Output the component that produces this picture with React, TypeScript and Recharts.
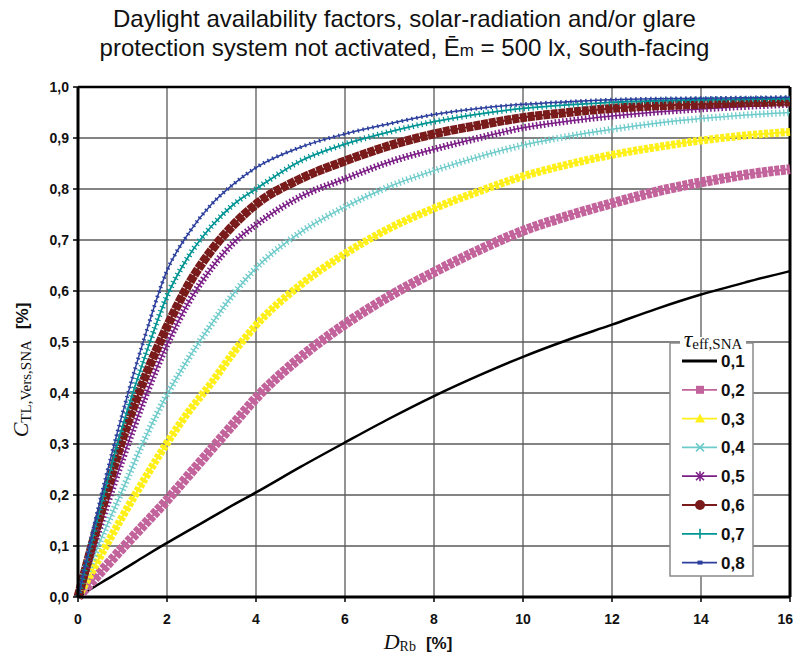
import React from 'react';
import { LineChart, Line, XAxis, YAxis, CartesianGrid, ReferenceLine } from 'recharts';

const xValues = [0, 0.5, 1, 1.5, 2, 2.5, 3, 3.5, 4, 5, 6, 7, 8, 9, 10, 11, 12, 13, 14, 15, 16];
const tau01 = [0, 0.027, 0.053, 0.08, 0.106, 0.131, 0.156, 0.181, 0.205, 0.255, 0.303, 0.35, 0.394, 0.434, 0.471, 0.504, 0.534, 0.565, 0.593, 0.617, 0.639];
const tau02 = [0, 0.048, 0.096, 0.143, 0.19, 0.24, 0.29, 0.34, 0.39, 0.47, 0.535, 0.59, 0.637, 0.68, 0.718, 0.747, 0.772, 0.795, 0.813, 0.828, 0.839];
const tau03 = [0, 0.08, 0.158, 0.232, 0.302, 0.365, 0.42, 0.48, 0.533, 0.612, 0.673, 0.723, 0.762, 0.795, 0.825, 0.848, 0.867, 0.882, 0.895, 0.905, 0.912];
const tau04 = [0, 0.11, 0.21, 0.31, 0.397, 0.47, 0.535, 0.595, 0.645, 0.715, 0.765, 0.805, 0.836, 0.863, 0.886, 0.903, 0.917, 0.929, 0.938, 0.945, 0.95];
const tau05 = [0, 0.14, 0.27, 0.39, 0.495, 0.58, 0.645, 0.695, 0.73, 0.785, 0.82, 0.853, 0.878, 0.9, 0.92, 0.933, 0.943, 0.951, 0.957, 0.962, 0.966];
const tau06 = [0, 0.16, 0.31, 0.43, 0.53, 0.615, 0.68, 0.73, 0.77, 0.82, 0.855, 0.885, 0.908, 0.925, 0.94, 0.95, 0.958, 0.963, 0.966, 0.969, 0.971];
const tau07 = [0, 0.175, 0.335, 0.47, 0.59, 0.67, 0.727, 0.77, 0.8, 0.855, 0.888, 0.912, 0.932, 0.947, 0.958, 0.965, 0.97, 0.973, 0.975, 0.976, 0.977];
const tau08 = [0, 0.19, 0.36, 0.51, 0.64, 0.715, 0.77, 0.81, 0.842, 0.882, 0.908, 0.928, 0.946, 0.958, 0.966, 0.971, 0.975, 0.977, 0.978, 0.979, 0.98];

const seriesLabels = ['0,1', '0,2', '0,3', '0,4', '0,5', '0,6', '0,7', '0,8'];
const xTicks = [0, 2, 4, 6, 8, 10, 12, 14, 16];
const yTicks = [0, 0.1, 0.2, 0.3, 0.4, 0.5, 0.6, 0.7, 0.8, 0.9, 1.0];

const allSeries = [tau01, tau02, tau03, tau04, tau05, tau06, tau07, tau08];
const keys = ['s1', 's2', 's3', 's4', 's5', 's6', 's7', 's8'];

const data = xValues.map((x, i) => {
  const row: Record<string, number> = { x };
  allSeries.forEach((s, k) => { row[keys[k]] = s[i]; });
  return row;
});

type Style = { color: string; base: number; band: number; dash: string; marker: string };
const styles: Style[] = [
  { color: '#000000', base: 2.5, band: 0, dash: '', marker: 'none' },
  { color: '#c3639b', base: 2, band: 10, dash: '5 1.2', marker: 'square' },
  { color: '#fff01a', base: 2, band: 8, dash: '4 1.5', marker: 'triangle' },
  { color: '#6fcbcb', base: 1.5, band: 7, dash: '1.3 2.7', marker: 'x' },
  { color: '#7b1f86', base: 1.5, band: 7, dash: '1.6 2.2', marker: 'star' },
  { color: '#7a1b1b', base: 2, band: 9, dash: '7 0.8', marker: 'circle' },
  { color: '#009494', base: 1.8, band: 6, dash: '1.2 3.3', marker: 'plus' },
  { color: '#2c3f9c', base: 1.5, band: 4, dash: '1.5 3.5', marker: 'dash' },
];

const fmtY = (v: number) => v.toFixed(1).replace('.', ',');

function Marker({ type, cx, cy, color }: { type: string; cx: number; cy: number; color: string }) {
  switch (type) {
    case 'square':
      return <rect x={cx - 4} y={cy - 4} width={8} height={8} fill={color} />;
    case 'triangle':
      return <polygon points={`${cx},${cy - 5} ${cx - 5},${cy + 4} ${cx + 5},${cy + 4}`} fill={color} />;
    case 'x':
      return <g stroke={color} strokeWidth={1.6}><line x1={cx - 4} y1={cy - 4} x2={cx + 4} y2={cy + 4} /><line x1={cx - 4} y1={cy + 4} x2={cx + 4} y2={cy - 4} /></g>;
    case 'star':
      return <g stroke={color} strokeWidth={1.6}><line x1={cx - 4} y1={cy - 4} x2={cx + 4} y2={cy + 4} /><line x1={cx - 4} y1={cy + 4} x2={cx + 4} y2={cy - 4} /><line x1={cx} y1={cy - 5} x2={cx} y2={cy + 5} /></g>;
    case 'circle':
      return <circle cx={cx} cy={cy} r={5} fill={color} />;
    case 'plus':
      return <g stroke={color} strokeWidth={1.6}><line x1={cx} y1={cy - 5} x2={cx} y2={cy + 5} /></g>;
    case 'dash':
      return <rect x={cx - 2.5} y={cy - 2} width={5} height={4} fill={color} />;
    default:
      return null;
  }
}

function XTick(props: any) {
  const { x, y, payload } = props;
  const isLast = payload.value === xTicks[xTicks.length - 1];
  return (
    <text x={isLast ? x + 3 : x} y={y + 14} textAnchor={isLast ? 'end' : 'middle'} fill="#111" fontSize={14} fontWeight="bold" fontFamily='"Liberation Sans", Arial, sans-serif'>
      {payload.value}
    </text>
  );
}

export default function App() {
  const legendX = 662;
  const legendY = 335;
  const W = 785;
  const H = 645;
  return (
    <div style={{ position: 'relative', width: W, height: H, fontFamily: '"Liberation Sans", Arial, sans-serif' }}>
      <div style={{ position: 'absolute', left: 0, top: -4, width: 793, textAlign: 'center', fontSize: 24, lineHeight: '29px', color: '#111' }}>
        Daylight availability factors, solar-radiation and/or glare
        <br />
        protection system not activated, Ē<span style={{ fontSize: 17 }}>m</span> = 500 lx, south-facing
      </div>
      <LineChart width={W} height={H} data={data} margin={{ top: 79, right: 3, bottom: 26, left: 0 }}>
        <CartesianGrid stroke="#5a5a5a" strokeWidth={1.3} />
        <XAxis
          dataKey="x"
          type="number"
          domain={[0, 16]}
          ticks={xTicks}
          interval={0}
          height={30}
          tickSize={5}
          tickMargin={8}
          axisLine={{ stroke: '#000', strokeWidth: 3 }}
          tickLine={{ stroke: '#000', strokeWidth: 1.5 }}
          tick={<XTick />}
        />
        <YAxis
          type="number"
          domain={[0, 1]}
          ticks={yTicks}
          interval={0}
          width={70}
          tickSize={5}
          tickMargin={4}
          tickFormatter={fmtY}
          axisLine={{ stroke: '#000', strokeWidth: 3 }}
          tickLine={{ stroke: '#000', strokeWidth: 1.5 }}
          tick={{ fill: '#111', fontSize: 14, fontWeight: 'bold' }}
        />
        <ReferenceLine y={1} stroke="#000" strokeWidth={2.5} />
        <ReferenceLine x={16} stroke="#000" strokeWidth={3} />
        {keys.map((k, i) => {
          const st = styles[i];
          const lines = [
            <Line key={k + 'b'} dataKey={k} type="monotone" stroke={st.color} strokeWidth={st.base} dot={false} activeDot={false} isAnimationActive={false} />,
          ];
          if (st.band > 0) {
            lines.push(
              <Line key={k + 't'} dataKey={k} type="monotone" stroke={st.color} strokeWidth={st.band} strokeDasharray={st.dash} strokeLinecap="butt" dot={false} activeDot={false} isAnimationActive={false} legendType="none" />
            );
          }
          return lines;
        })}
      </LineChart>
      <svg width={W} height={H} style={{ position: 'absolute', left: 0, top: 0, pointerEvents: 'none' }}>
        {/* Y axis title */}
        <g transform="translate(20, 362) rotate(-90)">
          <text textAnchor="middle" fill="#111">
            <tspan fontFamily='"Liberation Serif", serif' fontStyle="italic" fontSize={22}>C</tspan>
            <tspan fontFamily='"Liberation Serif", serif' fontSize={15} dy={3}>TL,Vers,SNA</tspan>
            <tspan fontFamily='"Liberation Sans", Arial, sans-serif' fontWeight="bold" fontSize={17} dy={-3} dx={11}>[%]</tspan>
          </text>
        </g>
        {/* X axis title */}
        <text x={410} y={641} textAnchor="middle" fill="#111">
          <tspan fontFamily='"Liberation Serif", serif' fontStyle="italic" fontSize={22}>D</tspan>
          <tspan fontFamily='"Liberation Serif", serif' fontSize={14} dy={2}>Rb</tspan>
          <tspan fontFamily='"Liberation Sans", Arial, sans-serif' fontWeight="bold" fontSize={17} dy={-2} dx={10}>[%]</tspan>
        </text>
        {/* Legend */}
        <rect x={legendX} y={legendY} width={83} height={233} fill="#fff" stroke="#8a8a8a" strokeWidth={1.5} />
        <rect x={legendX + 10} y={legendY - 6} width={66} height={12} fill="#fff" />
        <text x={legendX + 43} y={legendY + 4} textAnchor="middle" fill="#111">
          <tspan fontFamily='"Liberation Serif", serif' fontStyle="italic" fontSize={24}>τ</tspan>
          <tspan fontFamily='"Liberation Serif", serif' fontSize={15} dy={2}>eff,SNA</tspan>
        </text>
        {seriesLabels.map((lab, i) => {
          const cy = legendY + 18 + i * 28.8;
          const st = styles[i];
          return (
            <g key={lab}>
              <line x1={legendX + 12} y1={cy} x2={legendX + 47} y2={cy} stroke={st.color} strokeWidth={i === 0 ? 3 : 1.8} />
              <Marker type={st.marker} cx={legendX + 30} cy={cy} color={st.color} />
              <text x={legendX + 51} y={cy + 6} fontSize={17} fontWeight="bold" fill="#111" fontFamily='"Liberation Sans", Arial, sans-serif'>{lab}</text>
            </g>
          );
        })}
      </svg>
    </div>
  );
}
